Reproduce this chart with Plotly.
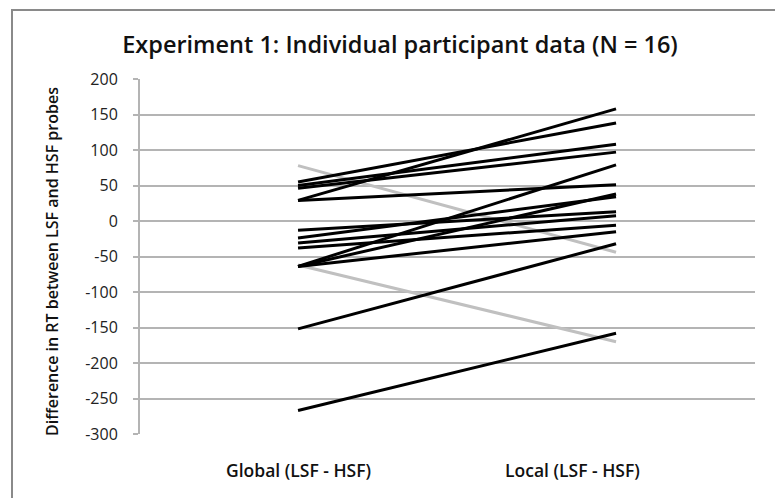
import plotly.graph_objects as go

categories = ["Global (LSF - HSF)", "Local (LSF - HSF)"]

# Individual participants: [global, local]
black_global = [55, 50, 46, 29, 29, -13, -24, -31, -38, -64, -64, -64, -152, -267]
black_local = [138, 108, 97, 158, 51, 13, 34, 7.5, -6, 79, 38, -15, -32, -158]
grey_global = [78, -62]
grey_local = [-44, -170]

title = "Experiment 1: Individual participant data (N = 16)"
y_title = "Difference in RT between LSF and HSF probes"
y_ticks = [200, 150, 100, 50, 0, -50, -100, -150, -200, -250, -300]
y_ticktext = ["200", "150", "100", "50", "0", "-50", "-100", "-150", "-200", "-250", "-300"]

FONT = "Open Sans"
OFF = 8  # default page body margin

fig = go.Figure()
for g, l in zip(grey_global, grey_local):
    fig.add_trace(go.Scatter(x=categories, y=[g, l], mode="lines",
                             line=dict(color="#c0c0c0", width=3), showlegend=False,
                             hoverinfo="skip"))
for g, l in zip(black_global, black_local):
    fig.add_trace(go.Scatter(x=categories, y=[g, l], mode="lines",
                             line=dict(color="#000000", width=3), showlegend=False,
                             hoverinfo="skip"))

W, H = 783 - OFF, 498 - OFF
L, T = 140 - OFF, 79 - OFF
pw, ph = 615, 355
R, B = W - L - pw, H - T - ph

def px2paper_x(px):
    return (px - OFF - L) / pw

def py2paper_y(py):
    return (T + ph - (py - OFF)) / ph

fig.update_layout(
    width=W, height=H,
    margin=dict(l=L, r=R, t=T, b=B),
    paper_bgcolor="white", plot_bgcolor="white",
    font=dict(family=FONT, color="#1a1a1a"),
    title=dict(text=title, x=(400 - OFF) / W, xref="container", xanchor="center",
               y=1 - (45 - OFF) / H, yref="container", yanchor="middle",
               font=dict(family=FONT, size=23.5, color="#111111", weight=600)),
    xaxis=dict(type="category", range=[-0.497, 1.437], showticklabels=False,
               showgrid=False, zeroline=False, showline=False, ticks=""),
    yaxis=dict(range=[-300, 200], tickvals=y_ticks, ticktext=y_ticktext, showgrid=True,
               gridcolor="#b4b4b4", gridwidth=2, zeroline=False,
               showline=True, linecolor="#b4b4b4", linewidth=2,
               ticks="outside", ticklen=5, tickcolor="#b4b4b4", tickwidth=2,
               ticklabelstandoff=12,
               tickfont=dict(family=FONT, size=16, color="#222222")),
)

# category labels
for cat, cx in zip(categories, [298, 572]):
    fig.add_annotation(text=cat, xref="paper", yref="paper",
                       x=px2paper_x(cx), y=py2paper_y(470), showarrow=False,
                       xanchor="center", yanchor="middle",
                       font=dict(family=FONT, size=17.5, color="#111111", weight=600))

# y axis title
fig.add_annotation(text=y_title, xref="paper", yref="paper",
                   x=px2paper_x(52), y=py2paper_y(262), textangle=-90,
                   showarrow=False, xanchor="center", yanchor="middle",
                   font=dict(family=FONT, size=16, color="#111111", weight=600))

# outer chart border
fig.add_shape(type="rect", xref="paper", yref="paper",
              x0=px2paper_x(12), x1=px2paper_x(777),
              y0=py2paper_y(510), y1=py2paper_y(10),
              line=dict(color="#8a8a8a", width=2), fillcolor="rgba(0,0,0,0)",
              layer="below")

fig.write_html("out.html")
